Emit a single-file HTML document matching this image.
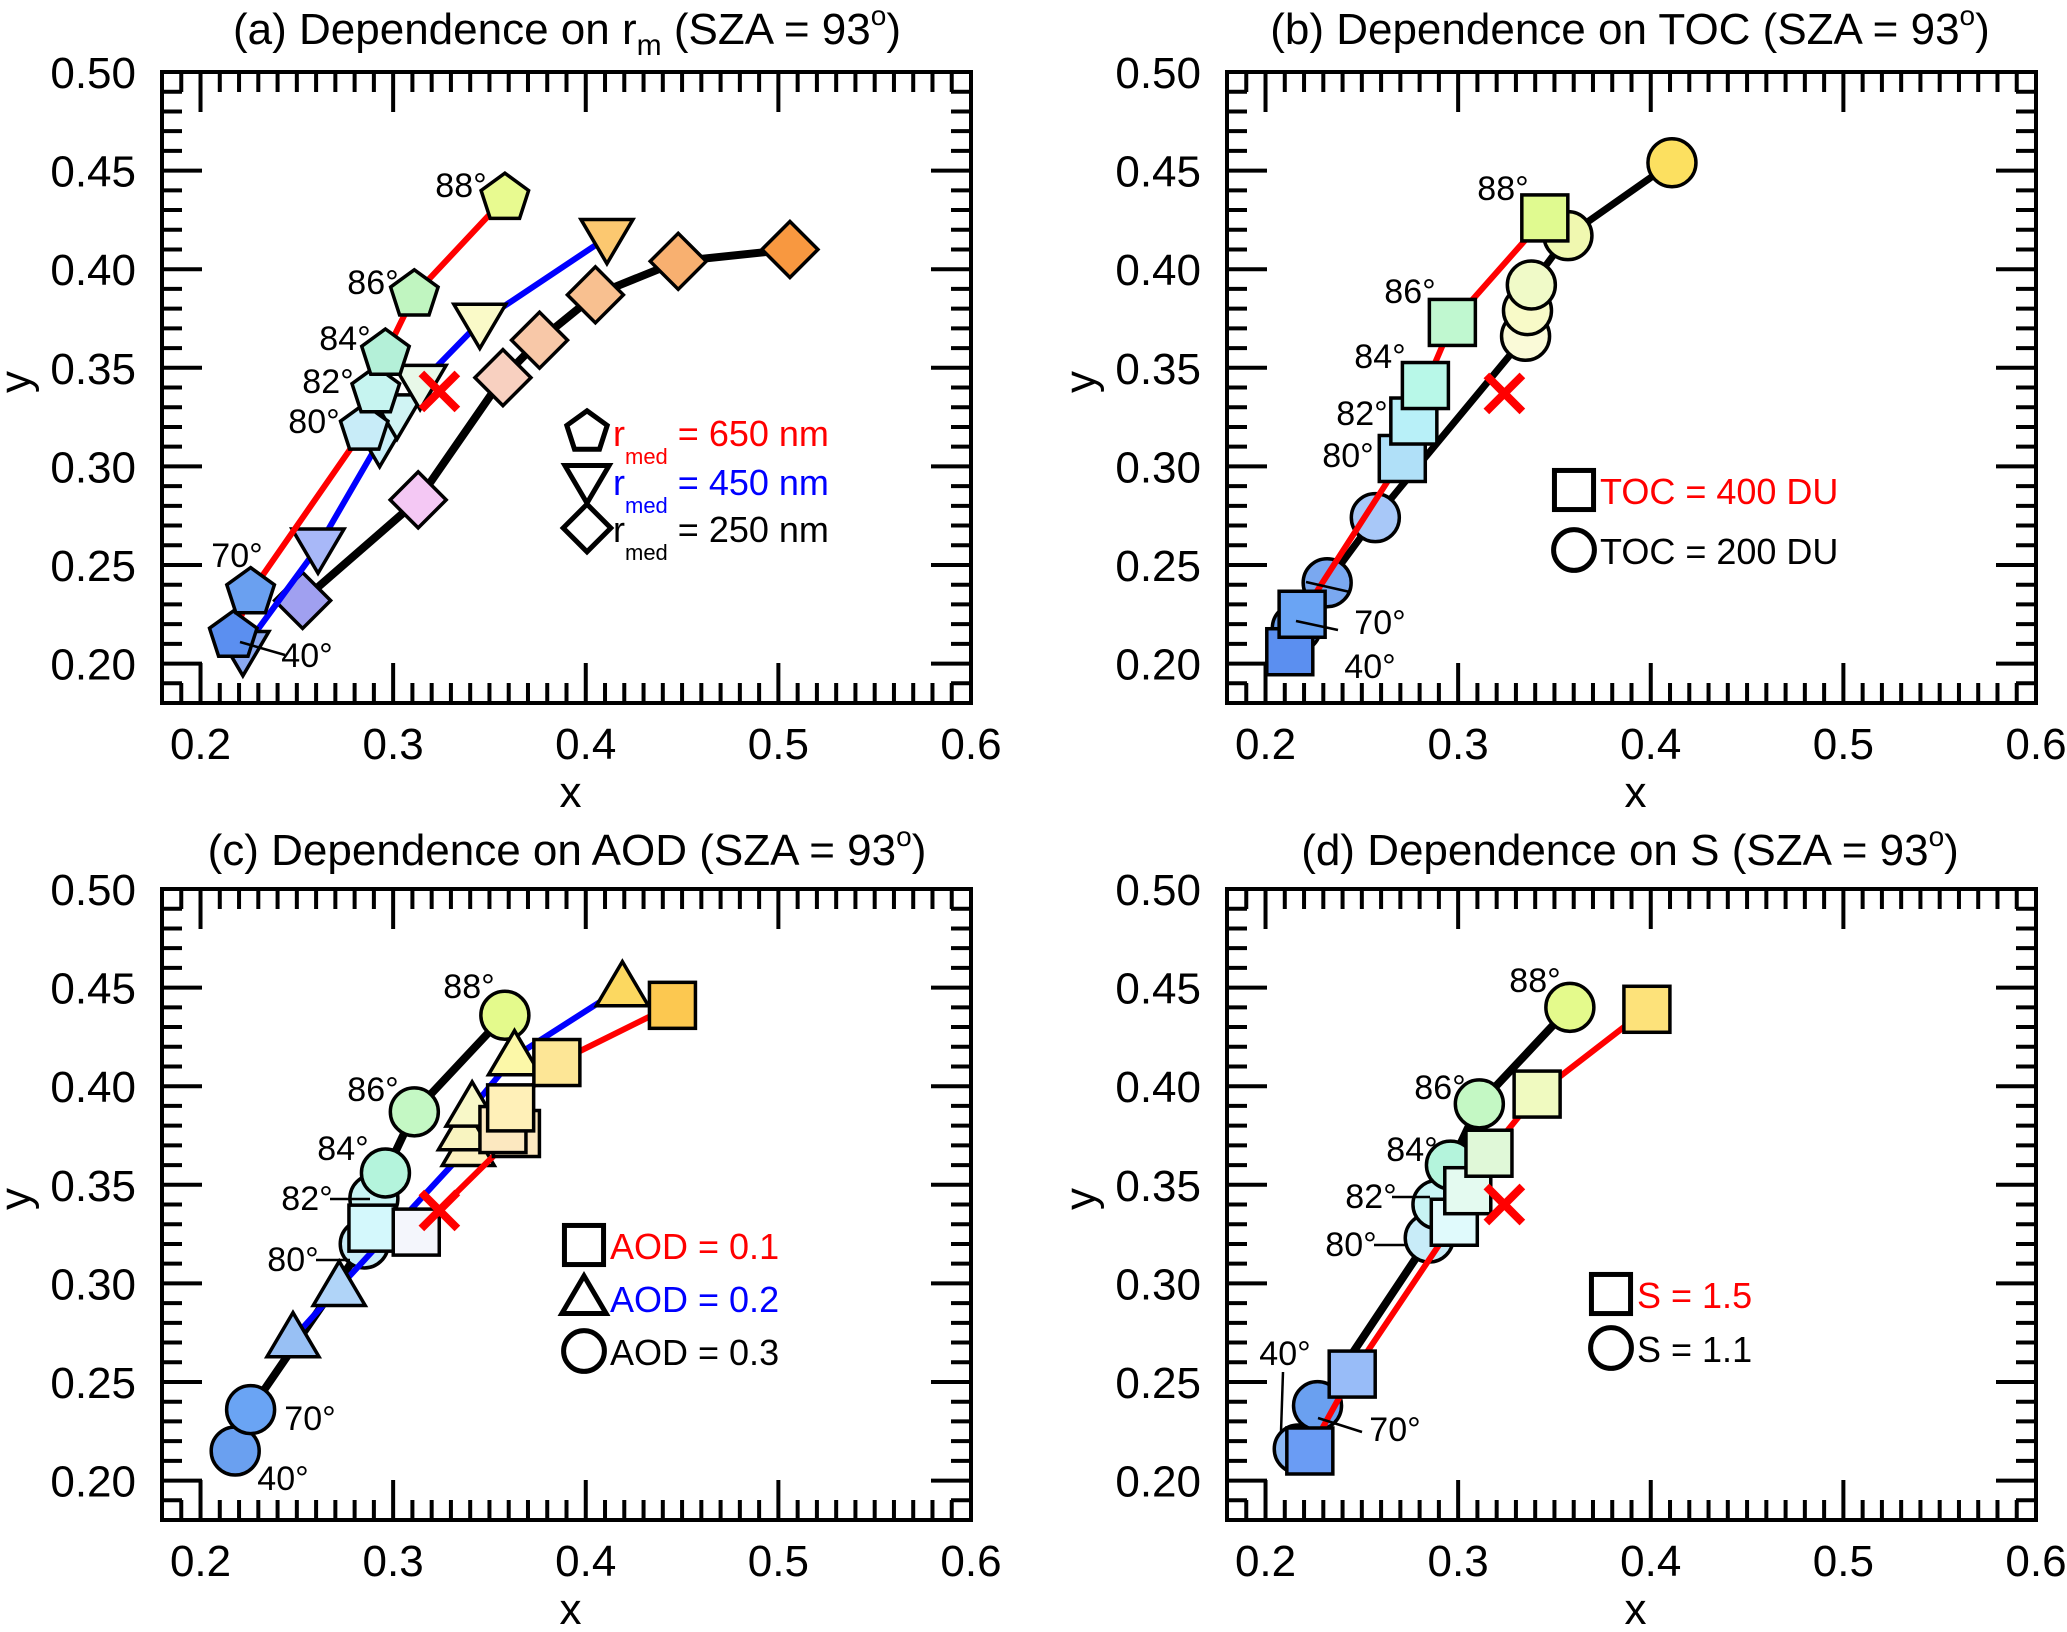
<!DOCTYPE html>
<html><head><meta charset="utf-8"><style>
html,body{margin:0;padding:0;background:#fff;}
svg{display:block;font-family:"Liberation Sans",Arial,sans-serif;}
</style></head><body>
<svg id="fig" width="2067" height="1632" viewBox="0 0 2067 1632" xmlns="http://www.w3.org/2000/svg"></svg>
<script>
// ---- Panel (a): dependence on r_med ----
const aPentX=[0.217,0.226,0.285,0.291,0.296,0.311,0.358];
const aPentY=[0.214,0.236,0.319,0.338,0.357,0.387,0.436];
const aTriX=[0.222,0.261,0.293,0.302,0.314,0.345,0.411];
const aTriY=[0.207,0.259,0.313,0.327,0.342,0.373,0.416];
const aDiaX=[0.253,0.313,0.357,0.376,0.405,0.448,0.506];
const aDiaY=[0.232,0.283,0.345,0.364,0.387,0.404,0.410];
// ---- Panel (b): dependence on TOC ----
const bSqX=[0.2126,0.219,0.271,0.277,0.283,0.297,0.345];
const bSqY=[0.206,0.225,0.304,0.323,0.341,0.373,0.426];
const bCirX=[0.216,0.232,0.257,0.335,0.336,0.338,0.357,0.411];
const bCirY=[0.218,0.241,0.274,0.366,0.379,0.392,0.417,0.454];
// ---- Panel (c): dependence on AOD ----
const cSqX=[0.289,0.312,0.364,0.357,0.361,0.385,0.445];
const cSqY=[0.328,0.326,0.376,0.378,0.389,0.412,0.441];
const cTriX=[0.248,0.272,0.339,0.337,0.341,0.363,0.419];
const cTriY=[0.272,0.298,0.369,0.377,0.389,0.415,0.450];
const cCirX=[0.218,0.226,0.285,0.290,0.296,0.311,0.358];
const cCirY=[0.215,0.236,0.320,0.343,0.356,0.387,0.436];
// ---- Panel (d): dependence on S ----
const dSqX=[0.223,0.245,0.298,0.305,0.316,0.341,0.398];
const dSqY=[0.215,0.254,0.331,0.347,0.366,0.396,0.439];
const dCirX=[0.217,0.227,0.285,0.289,0.296,0.311,0.358];
const dCirY=[0.216,0.238,0.323,0.340,0.360,0.391,0.440];
// reference point (red X)
const refX=[0.324,0.324,0.324,0.324];
const refY=[0.338,0.337,0.337,0.340];
// axis tick labels
const xTickVals=[0.2,0.3,0.4,0.5,0.6];
const xTickLabels=["0.2","0.3","0.4","0.5","0.6"];
const yTickVals=[0.20,0.25,0.30,0.35,0.40,0.45,0.50];
const yTickLabels=["0.20","0.25","0.30","0.35","0.40","0.45","0.50"];
// marker fill colours (style)
const aPentFill=["#5b8ff0","#6aa0f0","#c8ecf8","#c6f4f0","#b4f0d8","#c0f5c0","#e8fa90"];
const aTriFill=["#8aa8f0","#a8b8f8","#c8eef8","#d0f4f4","#e8f8e8","#fafac8","#fcc870"];
const aDiaFill=["#a0a0f0","#f4c8f4","#f8d0c0","#f8c8a8","#f8c090","#f8b070","#f89840"];
const bSqFill=["#5b8ff0","#6aa4f4","#b0e0f8","#b8f0f8","#b8f8e8","#c0f8d0","#e0fa90"];
const bCirFill=["#6aa0f0","#7aa8f0","#a8c8f8","#fafad8","#f8fac8","#f0fac8","#f0f8b0","#fce060"];
const cSqFill=["#d4f8fc","#f4f6fc","#fde8c0","#fce8c0","#fff0b8","#fde696","#fcc850"];
const cTriFill=["#98c0f4","#b0d4f8","#fcf0c0","#f8f4c0","#f8f8c8","#fcf8a8","#fcd860"];
const cCirFill=["#6aa0f0","#6aa4f4","#c8ecf8","#c8f4f4","#b4f4dc","#c4f8c4","#e4fa8c"];
const dSqFill=["#6a9cf4","#98bcf8","#e0fafc","#e4faf0","#e0f8d8","#f0fac0","#fde27a"];
const dCirFill=["#8cb8f4","#6aa0f0","#c8ecf8","#c8f4f4","#b4f4dc","#c4f8c4","#e4fa8c"];

const NS="http://www.w3.org/2000/svg";
const svg=document.getElementById('fig');
const W=809,H=631,XMIN=0.18,XMAX=0.6,YMIN=0.18,YMAX=0.5;
const panels={a:[162,72],b:[1227,72],c:[162,889],d:[1227,889]};
function sx(p,v){return panels[p][0]+(v-XMIN)/(XMAX-XMIN)*W;}
function sy(p,v){return panels[p][1]+(YMAX-v)/(YMAX-YMIN)*H;}
function el(tag,attrs,parent){const e=document.createElementNS(NS,tag);for(const k in attrs)e.setAttribute(k,attrs[k]);(parent||svg).appendChild(e);return e;}

function txt(x,y,s,size,anchor,fill,parent){
  const t=el('text',{x:x,y:y,'font-size':size,'text-anchor':anchor||'start',fill:fill||'#000'},parent);
  t.textContent=s;return t;
}

function axes(p){
  const [x0,y0]=panels[p];
  const g=el('g',{});
  
  
  for(let i=18;i<=60;i++){
    const v=i/100; const X=sx(p,v); const major=(i%10===0); const L=major?40:20;
    if(X>x0+1 && X<x0+W-1){
      el('line',{x1:X,y1:y0,x2:X,y2:y0+L,stroke:'#000','stroke-width':4},g);
      el('line',{x1:X,y1:y0+H,x2:X,y2:y0+H-L,stroke:'#000','stroke-width':4},g);
    }
  }
  for(let i=18;i<=50;i++){
    const v=i/100; const Y=sy(p,v); const major=(i%5===0); const L=major?40:20;
    if(Y>y0+1 && Y<y0+H-1){
      el('line',{x1:x0,y1:Y,x2:x0+L,y2:Y,stroke:'#000','stroke-width':4},g);
      el('line',{x1:x0+W,y1:Y,x2:x0+W-L,y2:Y,stroke:'#000','stroke-width':4},g);
    }
  }
  el('rect',{x:x0,y:y0,width:W,height:H,fill:'none',stroke:'#000','stroke-width':4},g);
  xTickVals.forEach((v,i)=>{
    const t=txt(sx(p,v),y0+H+56,xTickLabels[i],44,'middle','#000',g);
    
    
  });
  yTickVals.forEach((v,i)=>{
    const t=txt(x0-26,sy(p,v)+16,yTickLabels[i],44,'end','#000',g);
    
    
  });
  const xl=txt(x0+W/2+4,y0+H+104,'x',44,'middle','#000',g);
  
  
  const yl=el('text',{x:0,y:0,'font-size':44,'text-anchor':'middle',transform:'translate('+(x0-132)+','+(y0+310)+') rotate(-90)'},g);
  yl.textContent='y';
  
  
}

function shape(type,cx,cy,fill,parent,s){
  s=s||1;const st={fill:fill,stroke:'#000','stroke-width':3.5};
  let e;
  if(type==='pent'){
    const r=25*s;let pts=[];for(let k=0;k<5;k++){const a=(-90+72*k)*Math.PI/180;pts.push((cx+r*Math.cos(a)).toFixed(1)+','+(cy+r*Math.sin(a)).toFixed(1));}
    e=el('polygon',Object.assign({points:pts.join(' ')},st),parent);
  }else if(type==='tdown'){
    const r=26*s;e=el('polygon',Object.assign({points:(cx-r)+','+(cy-r*0.7)+' '+(cx+r)+','+(cy-r*0.7)+' '+cx+','+(cy+r)},st),parent);
  }else if(type==='tup'){
    const r=26*s;e=el('polygon',Object.assign({points:cx+','+(cy-r)+' '+(cx-r)+','+(cy+r*0.7)+' '+(cx+r)+','+(cy+r*0.7)},st),parent);
  }else if(type==='dia'){
    const r=28*s;e=el('polygon',Object.assign({points:cx+','+(cy-r)+' '+(cx+r)+','+cy+' '+cx+','+(cy+r)+' '+(cx-r)+','+cy},st),parent);
  }else if(type==='sq'){
    const r=23*s;e=el('rect',Object.assign({x:cx-r,y:cy-r,width:2*r,height:2*r},st),parent);
  }else{
    e=el('circle',Object.assign({cx:cx,cy:cy,r:24*s},st),parent);
  }
  return e;
}

function series(p,xs,ys,fills,type,color,lw,name){
  const g=el('g',{});
  
  
  const pts=xs.map((v,i)=>sx(p,v).toFixed(1)+','+sy(p,ys[i]).toFixed(1)).join(' ');
  const ln=el('polyline',{points:pts,fill:'none',stroke:color,'stroke-width':lw,'stroke-linejoin':'round'},g);
  
  
  xs.forEach((v,i)=>{
    const m=shape(type,sx(p,v),sy(p,ys[i]),fills[i],g);
    
    
  });
}

function refMark(p,i){
  const X=sx(p,refX[i]),Y=sy(p,refY[i]);const r=18;
  const g=el('g',{stroke:'#f00','stroke-width':8});
  
  
  el('line',{x1:X-r,y1:Y-r,x2:X+r,y2:Y+r},g);
  el('line',{x1:X-r,y1:Y+r,x2:X+r,y2:Y-r},g);
}

function lab(x,y,s){const t=txt(x,y,s,34,'middle');return t;}
function leader(x1,y1,x2,y2){const l=el('line',{x1:x1,y1:y1,x2:x2,y2:y2,stroke:'#000','stroke-width':2.5});}

function title(cx,cy,pre,sub,post){
  const t=el('text',{x:cx,y:cy+15,'font-size':44,'text-anchor':'middle'});
  
  
  let s=el('tspan',{},t);s.textContent=pre;
  if(sub){s=el('tspan',{'font-size':30,dy:11},t);s.textContent=sub;s=el('tspan',{dy:-11},t);s.textContent=' ';}
  s=el('tspan',{},t);s.textContent=post;
  s=el('tspan',{'font-size':28,dy:-19},t);s.textContent='o';
  s=el('tspan',{dy:19},t);s.textContent=')';
}

['a','b','c','d'].forEach(axes);
title(567,29,'(a) Dependence on r','m','(SZA = 93');
title(1630,29,'(b) Dependence on TOC (SZA = 93','','');
title(567,850,'(c) Dependence on AOD (SZA = 93','','');
title(1630,850,'(d) Dependence on S (SZA = 93','','');

// panel a
series('a',aDiaX,aDiaY,aDiaFill,'dia','#000',8,'series-250nm');
series('a',aTriX,aTriY,aTriFill,'tdown','#00f',6,'series-450nm');
series('a',aPentX,aPentY,aPentFill,'pent','#f00',6,'series-650nm');
refMark('a',0);
lab(461,197,'88°');lab(373,294,'86°');lab(345,350,'84°');lab(328,393,'82°');lab(314,433,'80°');lab(237,567,'70°');lab(307,667,'40°');
leader(240,642,285,655);

// panel b
series('b',bCirX,bCirY,bCirFill,'circ','#000',7,'series-toc200');
series('b',bSqX,bSqY,bSqFill,'sq','#f00',6,'series-toc400');
refMark('b',1);
lab(1503,200,'88°');lab(1410,303,'86°');lab(1380,368,'84°');lab(1362,425,'82°');lab(1348,467,'80°');lab(1380,634,'70°');lab(1370,678,'40°');
leader(1306,582,1350,592);leader(1296,621,1338,630);

// panel c
series('c',cCirX,cCirY,cCirFill,'circ','#000',8,'series-aod03');
series('c',cTriX,cTriY,cTriFill,'tup','#00f',6,'series-aod02');
series('c',cSqX,cSqY,cSqFill,'sq','#f00',6,'series-aod01');
refMark('c',2);
lab(469,998,'88°');lab(373,1101,'86°');lab(343,1160,'84°');lab(307,1210,'82°');lab(293,1271,'80°');lab(310,1430,'70°');lab(283,1490,'40°');
leader(330,1199,370,1199);leader(316,1260,350,1260);

// panel d
series('d',dCirX,dCirY,dCirFill,'circ','#000',8,'series-s11');
series('d',dSqX,dSqY,dSqFill,'sq','#f00',6,'series-s15');
refMark('d',3);
lab(1535,992,'88°');lab(1440,1099,'86°');lab(1412,1161,'84°');lab(1371,1208,'82°');lab(1351,1256,'80°');lab(1285,1365,'40°');lab(1395,1441,'70°');
leader(1392,1197,1430,1197);leader(1374,1245,1405,1245);leader(1283,1372,1281,1432);leader(1318,1418,1362,1432);

// legends
function legRow(px,py,type,parts,name){
  const g=el('g',{});
  
  
  const s=shape(type,px,py,'#fff',g,0.85);s.setAttribute('stroke-width',5);
  const t=el('text',{x:px+26,y:py+14,'font-size':36},g);
  parts.forEach(pt=>{const ts=el('tspan',Object.assign({fill:pt[1]},pt[2]||{}),t);ts.textContent=pt[0];});
}
const sub={'font-size':22,dy:18},unsub={dy:-18};
legRow(587,432,'pent',[['r','#f00'],['med','#f00',sub],[' = 650 nm','#f00',unsub]],'legend-650nm');
legRow(587,481,'tdown',[['r','#00f'],['med','#00f',sub],[' = 450 nm','#00f',unsub]],'legend-450nm');
legRow(587,528,'dia',[['r','#000'],['med','#000',sub],[' = 250 nm','#000',unsub]],'legend-250nm');
legRow(1574,490,'sq',[['TOC = 400 DU','#f00']],'legend-toc400');
legRow(1574,550,'circ',[['TOC = 200 DU','#000']],'legend-toc200');
legRow(584,1245,'sq',[['AOD = 0.1','#f00']],'legend-aod01');
legRow(584,1298,'tup',[['AOD = 0.2','#00f']],'legend-aod02');
legRow(584,1351,'circ',[['AOD = 0.3','#000']],'legend-aod03');
legRow(1611,1294,'sq',[['S = 1.5','#f00']],'legend-s15');
legRow(1611,1348,'circ',[['S = 1.1','#000']],'legend-s11');
</script>
</body></html>
